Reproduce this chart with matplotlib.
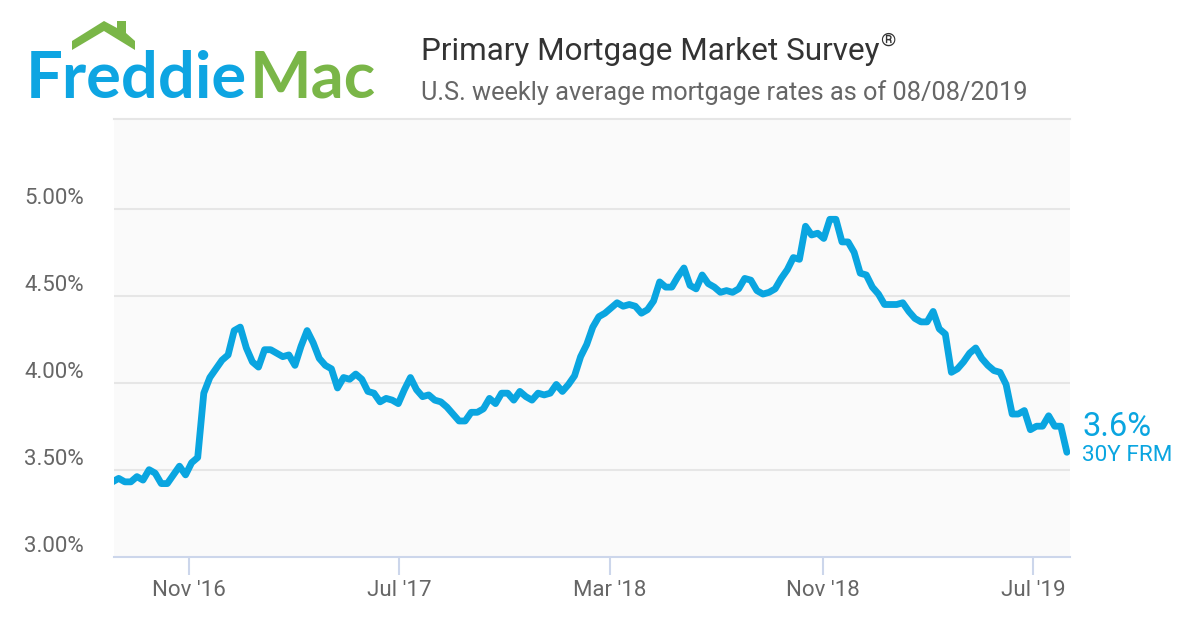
import pandas as pd
import matplotlib.pyplot as plt
from matplotlib.patches import Polygon

plt.rcParams['font.family'] = ['Roboto', 'DejaVu Sans']

# weekly 30Y rate, Aug 2016 to 08/08/2019
rates = [3.43, 3.45, 3.43, 3.43, 3.46, 3.44, 3.50, 3.48, 3.42, 3.42, 3.47, 3.52, 3.47, 3.54, 3.57,
         3.94, 4.03, 4.08, 4.13, 4.16, 4.30, 4.32, 4.20, 4.12, 4.09, 4.19, 4.19, 4.17, 4.15, 4.16,
         4.10, 4.21, 4.30, 4.23, 4.14, 4.10, 4.08, 3.97, 4.03, 4.02, 4.05, 4.02, 3.95, 3.94, 3.89,
         3.91, 3.90, 3.88, 3.96, 4.03, 3.96, 3.92, 3.93, 3.90, 3.89, 3.86, 3.82, 3.78, 3.78, 3.83,
         3.83, 3.85, 3.91, 3.88, 3.94, 3.94, 3.90, 3.95, 3.92, 3.90, 3.94, 3.93, 3.94, 3.99, 3.95,
         3.99, 4.04, 4.15, 4.22, 4.32, 4.38, 4.40, 4.43, 4.46, 4.44, 4.45, 4.44, 4.40, 4.42, 4.47,
         4.58, 4.55, 4.55, 4.61, 4.66, 4.56, 4.54, 4.62, 4.57, 4.55, 4.52, 4.53, 4.52, 4.54, 4.60,
         4.59, 4.53, 4.51, 4.52, 4.54, 4.60, 4.65, 4.72, 4.71, 4.90, 4.85, 4.86, 4.83, 4.94, 4.94,
         4.81, 4.81, 4.75, 4.63, 4.62, 4.55, 4.51, 4.45, 4.45, 4.45, 4.46, 4.41, 4.37, 4.35, 4.35,
         4.41, 4.31, 4.28, 4.06, 4.08, 4.12, 4.17, 4.20, 4.14, 4.10, 4.07, 4.06, 3.99, 3.82, 3.82,
         3.84, 3.73, 3.75, 3.75, 3.81, 3.75, 3.75, 3.60]
dates = pd.date_range(end='2019-08-08', periods=len(rates), freq='7D')

y_ticks = [3.0, 3.5, 4.0, 4.5, 5.0]
y_labels = ['3.00%', '3.50%', '4.00%', '4.50%', '5.00%']
x_ticks = pd.to_datetime(['2016-10-31', '2017-06-30', '2018-02-28', '2018-10-31', '2019-06-30'])
x_labels = ["Nov '16", "Jul '17", "Mar '18", "Nov '18", "Jul '19"]

BLUE = '#0aa5e0'
GREEN = '#7ab648'
GRAY = '#666666'

fig = plt.figure(figsize=(12, 6.3), dpi=100, facecolor='white')
ax = fig.add_axes([114 / 1200, (630 - 556.6) / 630, 956 / 1200, 437.6 / 630])
ax.set_facecolor('#fafafa')

ax.plot(dates, rates, color=BLUE, lw=4.9, solid_joinstyle='round', solid_capstyle='round', zorder=3)

ax.set_ylim(3.0, 5.517)
ax.set_xlim(x_ticks[0] - pd.Timedelta(days=86.4), x_ticks[-1] + pd.Timedelta(days=42.6))
ax.set_yticks(y_ticks[1:])
ax.tick_params(axis='y', length=0, labelleft=False)
ax.grid(axis='y', color='#e6e6e6', lw=1.5)
ax.set_axisbelow(True)

ax.set_xticks(x_ticks)
ax.set_xticklabels(x_labels, fontsize=16, color=GRAY)
ax.tick_params(axis='x', length=13, width=1.5, color='#ccd6eb', pad=4)

for side in ['left', 'right']:
    ax.spines[side].set_visible(False)
ax.spines['top'].set_color('#e6e6e6')
ax.spines['top'].set_linewidth(1.5)
ax.spines['bottom'].set_color('#ccd6eb')
ax.spines['bottom'].set_linewidth(1.5)

# y labels sit above their gridlines
for v, lab in zip(y_ticks, y_labels):
    ax.annotate(lab, xy=(0, v), xycoords=('axes fraction', 'data'), xytext=(-30, 10.5),
                textcoords='offset pixels', ha='right', va='center', fontsize=16, color=GRAY)

# overlay in pixel coordinates for header and logo
ov = fig.add_axes([0, 0, 1, 1], facecolor='none')
ov.set_xlim(0, 1200)
ov.set_ylim(630, 0)
ov.axis('off')

house = [(72, 50), (72, 41), (104, 21), (117, 28), (117, 21), (126, 21), (126, 33),
         (135, 41), (135, 50), (104, 31)]
ov.add_patch(Polygon(house, closed=True, color=GREEN, lw=0))
ov.text(26, 98, 'Freddie', family='Lato', weight='bold', fontsize=47, color='#0ea5e2', va='baseline')
ov.text(250, 98, 'Mac', family='Lato', weight='bold', fontsize=47, color=GREEN, va='baseline')

ov.text(421, 60, 'Primary Mortgage Market Survey', fontsize=22.7, color='#333333', va='baseline')
ov.text(880, 46, '®', fontsize=14, color='#333333', va='baseline')
ov.text(421, 100, 'U.S. weekly average mortgage rates as of 08/08/2019', fontsize=18.26, color=GRAY, va='baseline')

ov.text(1083, 435.5, '3.6%', fontsize=23.5, color=BLUE, va='baseline')
ov.text(1082, 461, '30Y FRM', fontsize=16.2, color=BLUE, va='baseline')

fig.savefig('out.png', dpi=100)
